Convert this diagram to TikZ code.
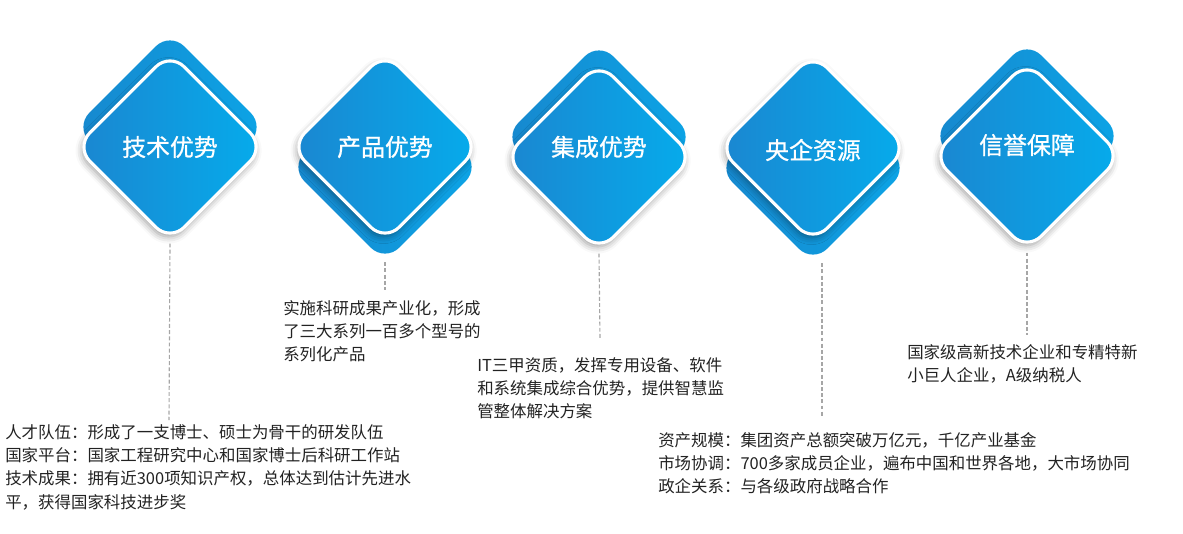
\documentclass[tikz,border=0pt]{standalone}
\usepackage{fontspec}
\setmainfont{Noto Sans CJK SC}
\newfontfamily\headfont{Noto Sans CJK SC}[FakeBold=0.8]
\usepackage{tikz}
\usetikzlibrary{shapes.geometric,shadows.blur}
\definecolor{frontdark}{HTML}{1B86D0}
\definecolor{frontlight}{HTML}{05ACEC}
\definecolor{backdark}{HTML}{1788CE}
\definecolor{backlight}{HTML}{0CA4E6}
\definecolor{notetext}{HTML}{222222}
\tikzstyle{back diamond}=[diamond,minimum size=4.75cm,inner sep=0pt,rounded corners=0.5cm,left color=backdark,right color=backlight]
\tikzstyle{front diamond}=[diamond,minimum size=4.75cm,inner sep=0pt,rounded corners=0.5cm,draw=white,line width=2.2pt,left color=frontdark,right color=frontlight,blur shadow={shadow xshift=-1pt,shadow yshift=-2.5pt,shadow opacity=40,shadow blur radius=5pt}]
\tikzstyle{title}=[text=white,inner sep=0pt,font=\headfont\fontsize{17pt}{20pt}\selectfont]
\tikzstyle{note}=[anchor=north west,inner sep=0pt,align=left,text=notetext,font=\fontsize{11.7pt}{16.6pt}\selectfont]
\tikzstyle{guide}=[draw,gray!70,line width=0.8pt,dash pattern=on 2.8pt off 1.6pt]

\begin{document}
\begin{tikzpicture}
        \useasboundingbox (0,0) rectangle (29.575,-13.325);
        % diamonds
        \node[back diamond] (b1) at (4.25,-3.175) {};
        \node[front diamond] (d1) at (4.25,-3.675) {};
        \node[back diamond] (b2) at (9.625,-4.175) {};
        \node[front diamond] (d2) at (9.625,-3.675) {};
        \node[back diamond] (b3) at (14.975,-3.425) {};
        \node[front diamond] (d3) at (14.975,-3.925) {};
        \node[back diamond] (b4) at (20.325,-4.2) {};
        \node[front diamond] (d4) at (20.325,-3.7) {};
        \node[back diamond] (b5) at (25.675,-3.4) {};
        \node[front diamond] (d5) at (25.675,-3.9) {};
        \node[title] (t1) at (4.25,-3.675) {技术优势};
        \node[title] (t2) at (9.625,-3.675) {产品优势};
        \node[title] (t3) at (14.975,-3.675) {集成优势};
        \node[title] (t4) at (20.325,-3.75) {央企资源};
        \node[title] (t5) at (25.675,-3.625) {信誉保障};
        % notes
        \node[note] (n1) at (0.125,-10.6) {人才队伍：形成了一支博士、硕士为骨干的研发队伍\\国家平台：国家工程研究中心和国家博士后科研工作站\\技术成果：拥有近300项知识产权，总体达到估计先进水\\平，获得国家科技进步奖};
        \node[note] (n2) at (7.075,-7.5) {实施科研成果产业化，形成\\了三大系列一百多个型号的\\系列化产品};
        \node[note] (n3) at (11.925,-8.925) {IT三甲资质，发挥专用设备、软件\\和系统集成综合优势，提供智慧监\\管整体解决方案};
        \node[note] (n4) at (16.45,-10.8) {资产规模：集团资产总额突破万亿元，千亿产业基金\\市场协调：700多家成员企业，遍布中国和世界各地，大市场协同\\政企关系：与各级政府战略合作};
        \node[note] (n5) at (22.675,-8.6) {国家级高新技术企业和专精特新\\小巨人企业，A级纳税人};
        % guide lines
        \coordinate (e1) at (4.225,-10.5);
        \coordinate (e2) at (9.625,-7.25);
        \coordinate (e3) at (15,-8.5);
        \coordinate (e4) at (20.55,-10.4);
        \coordinate (e5) at (25.675,-8.375);
        \draw[guide] (d1.south) -- (e1);
        \draw[guide] (b2.south) -- (e2);
        \draw[guide] (d3.south) -- (e3);
        \draw[guide] (b4.south -| e4) -- (e4);
        \draw[guide] (d5.south) -- (e5);
      \end{tikzpicture}
\end{document}
